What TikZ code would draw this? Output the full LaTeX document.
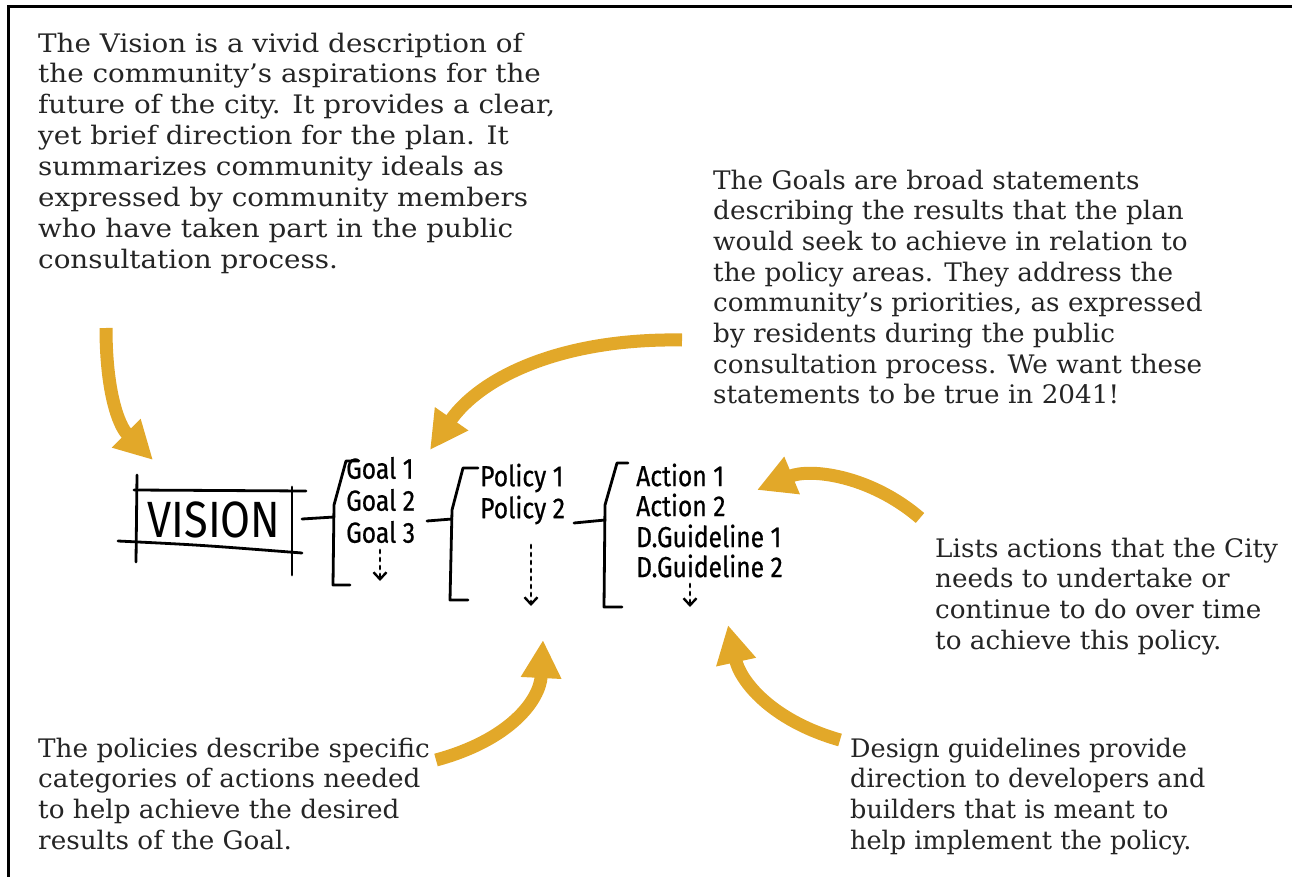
\documentclass[tikz,border=0pt]{standalone}
\usepackage{fontspec}
\setmainfont{DejaVu Serif}[FakeStretch=1.03]
\newfontfamily\hand[FakeStretch=0.85,FakeBold=0.6]{Fira Sans}
\newfontfamily\handthin[FakeStretch=0.85]{Fira Sans}
\usetikzlibrary{arrows.meta}
\definecolor{gold}{HTML}{E2A829}
\definecolor{txt}{HTML}{252525}
\tikzset{
  desc/.style={anchor=north west, inner sep=0pt, align=left, text=txt,
    font=\fontsize{25.5}{30.7}\selectfont},
  hw/.style={anchor=west, inner sep=0pt, font=\hand\fontsize{29}{30}\selectfont},
  ink/.style={line width=2.8pt, line cap=round, line join=round},
  dots/.style={ink, dash pattern=on 3pt off 5pt, -{Straight Barb[length=7pt,width=13pt,line width=2.4pt]}},
  goldarrow/.style={draw=gold, line width=13pt, -{Triangle[length=38pt,width=38pt]}},
}
\begin{document}
\begin{tikzpicture}[x=1pt,y=-1pt]
\useasboundingbox (0,0) rectangle (1292,877);
\draw[line width=3pt] (8,877) -- (8,7) -- (1292,7);

% descriptive texts
\node[desc, font=\fontsize{25.5}{30.9}\selectfont\addfontfeature{FakeStretch=1.09}] (tvision) at (38,32.5) {The Vision is a vivid description of\\
the community’s aspirations for the\\
future of the city. It provides a clear,\\
yet brief direction for the plan. It\\
summarizes community ideals as\\
expressed by community members\\
who have taken part in the public\\
consultation process.};
\node[desc] (tgoals) at (713,169.5) {The Goals are broad statements\\
describing the results that the plan\\
would seek to achieve in relation to\\
the policy areas. They address the\\
community’s priorities, as expressed\\
by residents during the public\\
consultation process. We want these\\
statements to be true in 2041!};
\node[desc] (tactions) at (935,537.5) {Lists actions that the City\\
needs to undertake or\\
continue to do over time\\
to achieve this policy.};
\node[desc] (tpolicies) at (38,737.5) {The policies describe specific\\
categories of actions needed\\
to help achieve the desired\\
results of the Goal.};
\node[desc, font=\fontsize{25.5}{30.7}\selectfont\addfontfeature{FakeStretch=1.0}] (tdesign) at (850,737.5) {Design guidelines provide\\
direction to developers and\\
builders that is meant to\\
help implement the policy.};

% hand-drawn scheme
\node[inner sep=0pt, font=\handthin\fontsize{51}{51}\selectfont] (vision) at (214,520) {VISION};
\draw[ink] (137,475) -- (136,562);
\draw[ink] (134,490) -- (306,491);
\draw[ink] (118,541) .. controls (200,545) .. (302,553);
\draw[ink] (292,487) -- (292,575);

\draw[ink] (302,519) -- (334,517);
\draw[ink] (358,461) -- (346,461) -- (334,505) -- (333,585) -- (350,585);
\node[hw] (g1) at (346,468) {Goal 1};
\node[hw] (g2) at (346,500) {Goal 2};
\node[hw] (g3) at (346,532) {Goal 3};
\coordinate (gd1) at (380,550);
\coordinate (gd2) at (380,581);
\draw[dots] (gd1) -- (gd2);

\draw[ink] (427,521) -- (452,519);
\draw[ink] (478,468) -- (463,468) -- (452,510) -- (450,600) -- (468,600);
\node[hw] (p1) at (480,478) {Policy 1};
\node[hw] (p2) at (480,510) {Policy 2};
\coordinate (pd1) at (531,545);
\coordinate (pd2) at (531,606);
\draw[dots] (pd1) -- (pd2);

\draw[ink] (574,523) -- (605,520);
\draw[ink] (628,463) -- (617,463) -- (605,505) -- (604,607) -- (622,607);
\node[hw] (a1) at (636,475) {Action 1};
\node[hw] (a2) at (636,505) {Action 2};
\node[hw] (d1) at (636,536) {D.Guideline 1};
\node[hw] (d2) at (636,566) {D.Guideline 2};
\coordinate (ad1) at (690,584);
\coordinate (ad2) at (690,607);
\draw[dots] (ad1) -- (ad2);

% gold arrows
\coordinate (v0) at (106,328);
\coordinate (v1) at (153,460);
\draw[goldarrow] (v0) .. controls (106,390) and (118,425) .. (v1);
\coordinate (g0) at (682,340);
\coordinate (gt) at (430,450);
\draw[goldarrow] (g0) .. controls (560,338) and (480,378) .. (gt);
\coordinate (a0) at (920,518);
\coordinate (at) at (757,490);
\draw[goldarrow] (a0) .. controls (870,475) and (810,468) .. (at);
\coordinate (p0) at (436,760);
\coordinate (pt) at (543,640);
\draw[goldarrow] (p0) .. controls (510,740) and (540,700) .. (pt);
\coordinate (d0) at (840,740);
\coordinate (dt) at (728,625);
\draw[goldarrow] (d0) .. controls (770,720) and (740,680) .. (dt);
\end{tikzpicture}
\end{document}
